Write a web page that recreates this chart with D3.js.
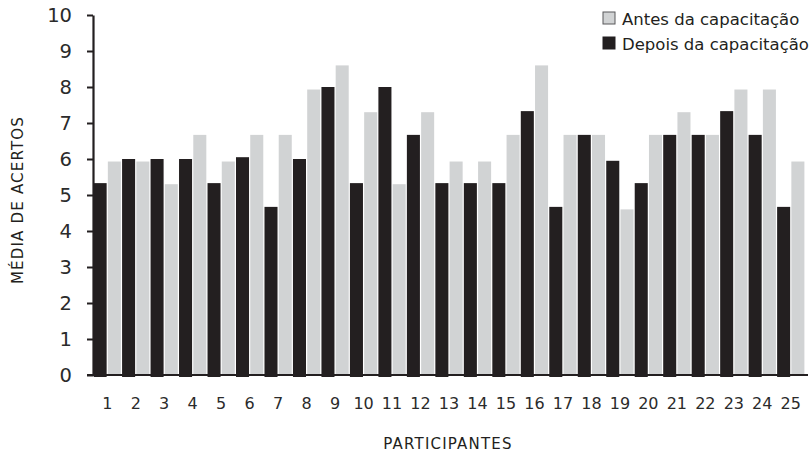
<!DOCTYPE html>
<html>
<head>
	<meta charset="utf-8">
	<title>Média de acertos por participante</title>
	<script src="https://d3js.org/d3.v7.min.js"></script>
	<style type="text/css">
		body {
			margin: 0;
			background: #fff;
		}
		svg {
			display: block;
			font-family: "DejaVu Sans", sans-serif;
		}
		.axis path, .axis line {
			stroke: #231f20;
		}
		.axis text {
			fill: #2b2b2b;
		}
		.y.axis text {
			font-size: 19.5px;
		}
		.x.axis text {
			font-size: 16px;
		}
		.title {
			font-size: 15px;
			letter-spacing: 1.2px;
			fill: #231f20;
		}
	</style>
</head>
<body>
<div id="chart"></div>

<script>
	// data
	var participants = d3.range(1, 26).map(String);
	var antes  = [5.93, 5.93, 5.3, 6.67, 5.93, 6.67, 6.67, 7.93, 8.6, 7.3, 5.3, 7.3, 5.93,
	              5.93, 6.67, 8.6, 6.67, 6.67, 4.6, 6.67, 7.3, 6.67, 7.93, 7.93, 5.93];
	var depois = [5.33, 6, 6, 6, 5.33, 6.05, 4.67, 6, 8, 5.33, 8, 6.67, 5.33,
	              5.33, 5.33, 7.33, 4.67, 6.67, 5.95, 5.33, 6.67, 6.67, 7.33, 6.67, 4.67];
	var yTicks = d3.range(0, 11);
	var seriesNames = ["Antes da capacitação", "Depois da capacitação"];

	var width = 810, height = 453;
	var margin = {top: 15, left: 93, bottom: 78, right: 5};

	var svg = d3.select("#chart").append("svg")
		.attr("width", width)
		.attr("height", height);

	var x0 = d3.scaleBand()
		.domain(participants)
		.range([margin.left, width - margin.right]);

	// depois (black) sits left, antes (gray) right
	var x1 = d3.scaleBand()
		.domain(["depois", "antes"])
		.range([0, x0.bandwidth()]);

	var y = d3.scaleLinear()
		.domain([0, 10])
		.range([height - margin.bottom, margin.top]);

	var color = {antes: "#d1d3d4", depois: "#231f20"};

	var rows = participants.map(function(p, i) {
		return {p: p, values: [{k: "depois", v: depois[i]}, {k: "antes", v: antes[i]}]};
	});

	var groups = svg.selectAll(".group")
		.data(rows)
		.enter().append("g")
		.attr("class", "group")
		.attr("transform", function(d) { return "translate(" + x0(d.p) + ",0)"; });

	groups.selectAll("rect")
		.data(function(d) { return d.values; })
		.enter().append("rect")
		.attr("x", function(d) { return x1(d.k) + 0.6; })
		.attr("width", x1.bandwidth() - 1.2)
		.attr("y", function(d) { return y(d.v); })
		.attr("height", function(d) { return y(0) - y(d.v) + (d.k == "depois" ? 2 : -1); })
		.style("fill", function(d) { return color[d.k]; });

	// y axis
	var yAxis = svg.append("g")
		.attr("class", "y axis")
		.attr("transform", "translate(" + margin.left + ",0)")
		.call(d3.axisLeft(y).tickValues(yTicks).tickSize(6).tickSizeOuter(0).tickPadding(15));
	yAxis.attr("font-size", null).attr("font-family", null);
	yAxis.select(".domain").attr("stroke-width", 2.2);
	yAxis.selectAll(".tick line").attr("stroke-width", 2);

	// baseline
	svg.append("line")
		.attr("x1", margin.left - 6)
		.attr("x2", width - 2)
		.attr("y1", y(0))
		.attr("y2", y(0))
		.attr("stroke", "#231f20")
		.attr("stroke-width", 2);

	// x labels
	var xAxis = svg.append("g")
		.attr("class", "x axis")
		.attr("transform", "translate(0," + y(0) + ")")
		.call(d3.axisBottom(x0).tickSize(0).tickPadding(23));
	xAxis.attr("font-size", null).attr("font-family", null);
	xAxis.select(".domain").remove();

	// axis titles
	svg.append("text")
		.attr("class", "title")
		.attr("transform", "translate(23,200) rotate(-90)")
		.attr("text-anchor", "middle")
		.text("MÉDIA DE ACERTOS");

	svg.append("text")
		.attr("class", "title")
		.attr("x", 448)
		.attr("y", 449)
		.attr("text-anchor", "middle")
		.text("PARTICIPANTES");

	// legend
	var legend = svg.selectAll(".legend")
		.data([{k: "antes", name: seriesNames[0]}, {k: "depois", name: seriesNames[1]}])
		.enter().append("g")
		.attr("class", "legend")
		.attr("transform", function(d, i) { return "translate(603," + (12 + i * 25) + ")"; });

	legend.append("rect")
		.attr("width", 12)
		.attr("height", 12)
		.style("fill", function(d) { return color[d.k]; })
		.style("stroke", function(d) { return d.k == "antes" ? "#58595b" : "#231f20"; })
		.style("stroke-width", 1);

	legend.append("text")
		.attr("x", 19)
		.attr("y", 12.5)
		.style("font-size", "16.5px")
		.style("fill", "#231f20")
		.text(function(d) { return d.name; });
</script>
</body>
</html>
